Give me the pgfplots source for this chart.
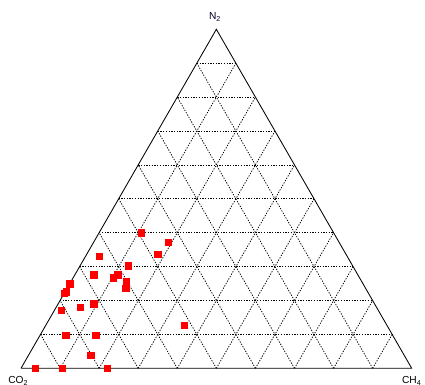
\documentclass[border=0pt]{standalone}
\usepackage{fontspec}
\setmainfont{Liberation Sans}
\usepackage{pgfplots}
\pgfplotsset{compat=1.18}
\usepackage{pgfplotstable}

% ternary compositions (fractions): CO2, CH4, N2
\pgfplotstableread{
CO2   CH4   N2
0.493 0.107 0.400
0.438 0.190 0.372
0.482 0.181 0.337
0.635 0.034 0.331
0.574 0.123 0.303
0.676 0.048 0.276
0.614 0.110 0.276
0.630 0.103 0.267
0.603 0.142 0.255
0.614 0.149 0.237
0.751 0.000 0.249
0.771 0.003 0.226
0.779 0.000 0.221
0.718 0.091 0.191
0.758 0.061 0.181
0.812 0.017 0.171
0.519 0.353 0.128
0.837 0.065 0.098
0.760 0.143 0.097
0.803 0.159 0.038
0.963 0.037 0.000
0.895 0.105 0.000
0.779 0.221 0.000
}\gasdata

\begin{document}
\begin{tikzpicture}
\begin{axis}[
  scale only axis,
  width=425bp, height=385bp,
  xmin=-0.05375, xmax=1.03404,
  ymin=-0.04926, ymax=1.08643,
  hide axis,
  clip=false,
  grid line/.style={black, line width=0.75bp, dash pattern=on 1.3bp off 1.4bp},
]
% horizontal grid lines (N2 constant)
\addplot[grid line] coordinates {(0.05,0.1) (0.95,0.1)};
\addplot[grid line] coordinates {(0.10,0.2) (0.90,0.2)};
\addplot[grid line] coordinates {(0.15,0.3) (0.85,0.3)};
\addplot[grid line] coordinates {(0.20,0.4) (0.80,0.4)};
\addplot[grid line] coordinates {(0.25,0.5) (0.75,0.5)};
\addplot[grid line] coordinates {(0.30,0.6) (0.70,0.6)};
\addplot[grid line] coordinates {(0.35,0.7) (0.65,0.7)};
\addplot[grid line] coordinates {(0.40,0.8) (0.60,0.8)};
\addplot[grid line] coordinates {(0.45,0.9) (0.55,0.9)};
% CH4 constant
\addplot[grid line] coordinates {(0.1,0) (0.55,0.9)};
\addplot[grid line] coordinates {(0.2,0) (0.60,0.8)};
\addplot[grid line] coordinates {(0.3,0) (0.65,0.7)};
\addplot[grid line] coordinates {(0.4,0) (0.70,0.6)};
\addplot[grid line] coordinates {(0.5,0) (0.75,0.5)};
\addplot[grid line] coordinates {(0.6,0) (0.80,0.4)};
\addplot[grid line] coordinates {(0.7,0) (0.85,0.3)};
\addplot[grid line] coordinates {(0.8,0) (0.90,0.2)};
\addplot[grid line] coordinates {(0.9,0) (0.95,0.1)};
% CO2 constant
\addplot[grid line] coordinates {(0.9,0) (0.45,0.9)};
\addplot[grid line] coordinates {(0.8,0) (0.40,0.8)};
\addplot[grid line] coordinates {(0.7,0) (0.35,0.7)};
\addplot[grid line] coordinates {(0.6,0) (0.30,0.6)};
\addplot[grid line] coordinates {(0.5,0) (0.25,0.5)};
\addplot[grid line] coordinates {(0.4,0) (0.20,0.4)};
\addplot[grid line] coordinates {(0.3,0) (0.15,0.3)};
\addplot[grid line] coordinates {(0.2,0) (0.10,0.2)};
\addplot[grid line] coordinates {(0.1,0) (0.05,0.1)};
% triangle frame
\addplot[black, line width=0.85bp] coordinates {(0,0) (1,0) (0.5,1) (0,0)};
% data
\addplot[only marks, mark=square*, mark size=3.2bp, red, mark options={fill=red, draw=red}]
  table[x expr=\thisrow{CH4}+0.5*\thisrow{N2}, y expr=\thisrow{N2}] {\gasdata};
% corner labels
\node[anchor=base, font=\fontsize{10.2bp}{12bp}\selectfont, text=black!85!blue, inner sep=0pt] at (axis cs:0.4965,1.0289) {N\textsubscript{2}};
\node[anchor=base, font=\fontsize{10.2bp}{12bp}\selectfont, inner sep=0pt] at (axis cs:-0.007,-0.0454) {CO\textsubscript{2}};
\node[anchor=base, font=\fontsize{10.2bp}{12bp}\selectfont, inner sep=0pt] at (axis cs:1.0,-0.0454) {CH\textsubscript{4}};
\end{axis}
\pgfresetboundingbox
\path (current axis.south west) rectangle (current axis.north east);
\end{tikzpicture}
\end{document}
